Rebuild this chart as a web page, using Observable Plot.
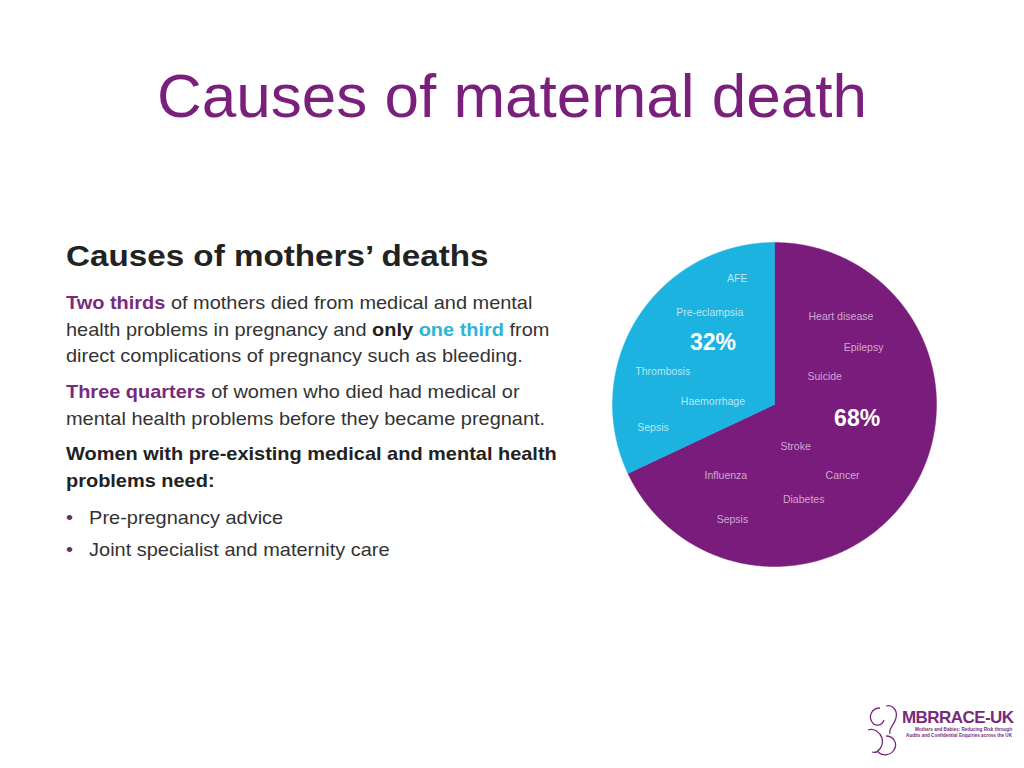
<!DOCTYPE html>
<html><head><meta charset="utf-8">
<script src="https://cdn.jsdelivr.net/npm/d3@7"></script>
<script src="https://cdn.jsdelivr.net/npm/@observablehq/plot@0.6"></script>
<style>
html,body{margin:0;padding:0;background:#fff}
body{width:1024px;height:768px;position:relative;overflow:hidden;font-family:"Liberation Sans",Arial,Helvetica,sans-serif}
.abs{position:absolute;white-space:nowrap;transform-origin:0 0}
#title{left:0;width:1024px;text-align:center;top:65px;font-size:62px;line-height:1;color:#7a1f7b}
#heading{left:66px;top:242px;font-size:29px;line-height:1;font-weight:bold;color:#222;transform:scaleX(1.145)}
.p{left:66px;font-size:19px;line-height:26.5px;color:#333;transform:scaleX(1.05)}
.pu{color:#7a2a7c;font-weight:bold}
.cy{color:#2fb4d6;font-weight:bold}
.b{font-weight:bold;color:#222}
.bul{left:66px;font-size:19px;line-height:1;color:#333;transform:scaleX(1.05)}
.bul span.dot{color:#6a2a6c;display:inline-block;width:22px}
#chart{position:absolute;left:604px;top:234px}
#logo{position:absolute;left:862px;top:702px;width:155px;height:56px}
</style></head><body>
<div id="title" class="abs">Causes of maternal death</div>
<div id="heading" class="abs">Causes of mothers’ deaths</div>
<div class="abs p" style="top:290px"><span class="pu">Two thirds</span> of mothers died from medical and mental<br>health problems in pregnancy and <span class="b">only</span> <span class="cy">one third</span> from<br>direct complications of pregnancy such as bleeding.</div>
<div class="abs p" style="top:379px"><span class="pu">Three quarters</span> of women who died had medical or<br>mental health problems before they became pregnant.</div>
<div class="abs p b" style="top:441px">Women with pre-existing medical and mental health<br>problems need:</div>
<div class="abs bul" style="top:508px"><span class="dot">•</span>Pre-pregnancy advice</div>
<div class="abs bul" style="top:540px"><span class="dot">•</span>Joint specialist and maternity care</div>
<div id="chart"></div>
<div id="logo">
<svg width="155" height="56" viewBox="0 0 155 56">
<path d="M18 6 C10 6 6 14 10 20 C13 25 20 24 22 18 M24 4 C30 2 36 8 34 16 C32 24 26 26 28 32" fill="none" stroke="#7a2a7c" stroke-width="1.3"/>
<path d="M6 28 C12 26 18 30 20 36 C22 44 16 52 10 50 M24 34 C32 34 36 42 32 48 C28 54 20 54 16 50" fill="none" stroke="#7a2a7c" stroke-width="1.3"/>
<text x="40" y="21" font-size="17" font-weight="bold" fill="#7a2a7c" font-family="Liberation Sans, Arial, sans-serif" textLength="112">MBRRACE-UK</text>
<text x="150" y="29" font-size="4.6" font-weight="bold" fill="#7a2a7c" text-anchor="end" font-family="Liberation Sans, Arial, sans-serif">Mothers and Babies: Reducing Risk through</text>
<text x="150" y="35" font-size="4.6" font-weight="bold" fill="#7a2a7c" text-anchor="end" font-family="Liberation Sans, Arial, sans-serif">Audits and Confidential Enquiries across the UK</text>
</svg>
</div>
<script>
// ---- data ----
const groups = ["Medical and mental health problems", "Direct complications of pregnancy"];
const shares = [68, 32];
const shareLabels = ["68%", "32%"];
const indirectCauses = ["Heart disease", "Epilepsy", "Suicide", "Stroke", "Cancer", "Influenza", "Diabetes", "Sepsis"];
const directCauses = ["AFE", "Pre-eclampsia", "Thrombosis", "Haemorrhage", "Sepsis"];

// ---- layout (label placement inside the pie, in pie-radius units) ----
const shareLabelPos = [[0.51, -0.09], [-0.38, 0.38]];
const indirectLabelPos = [[0.41, 0.54], [0.55, 0.35], [0.31, 0.17], [0.13, -0.26], [0.42, -0.44], [-0.30, -0.44], [0.18, -0.59], [-0.26, -0.71]];
const directLabelPos = [[-0.23, 0.78], [-0.40, 0.57], [-0.69, 0.20], [-0.38, 0.02], [-0.75, -0.14]];

const colors = ["#7a1c7b", "#1db3e0"];

// slice outlines from d3.pie angles (clockwise from 12 o'clock)
const arcs = d3.pie().sort(null).startAngle(0).endAngle(2 * Math.PI)(shares);
const slicePts = [];
arcs.forEach((s, i) => {
  slicePts.push({group: groups[i], x: 0, y: 0});
  const n = Math.ceil((s.endAngle - s.startAngle) / 0.005);
  for (let k = 0; k <= n; k++) {
    const a = s.startAngle + (s.endAngle - s.startAngle) * k / n;
    slicePts.push({group: groups[i], x: Math.sin(a), y: Math.cos(a)});
  }
  slicePts.push({group: groups[i], x: 0, y: 0});
});

const shareText = shareLabels.map((t, i) => ({t, x: shareLabelPos[i][0], y: shareLabelPos[i][1]}));
const indirectText = indirectCauses.map((t, i) => ({t, x: indirectLabelPos[i][0], y: indirectLabelPos[i][1]}));
const directText = directCauses.map((t, i) => ({t, x: directLabelPos[i][0], y: directLabelPos[i][1]}));

const font = "Liberation Sans, Arial, sans-serif";
const chart = Plot.plot({
  width: 340, height: 340, margin: 8,
  style: {background: "transparent", fontFamily: font},
  x: {domain: [-1, 1], axis: null},
  y: {domain: [-1, 1], axis: null},
  color: {domain: groups, range: colors},
  marks: [
    Plot.line(slicePts, {x: "x", y: "y", z: "group", fill: "group", stroke: "group", strokeWidth: 0.5, curve: "linear"}),
    Plot.text(directText, {x: "x", y: "y", text: "t", fill: "#b9e6f6", fontSize: 10.5, fontFamily: font}),
    Plot.text(indirectText, {x: "x", y: "y", text: "t", fill: "#cfa8d2", fontSize: 10.5, fontFamily: font}),
    Plot.text(shareText, {x: "x", y: "y", text: "t", fill: "#ffffff", fontSize: 23, fontWeight: "bold", fontFamily: font})
  ]
});
document.getElementById("chart").appendChild(chart);
</script>
</body></html>
